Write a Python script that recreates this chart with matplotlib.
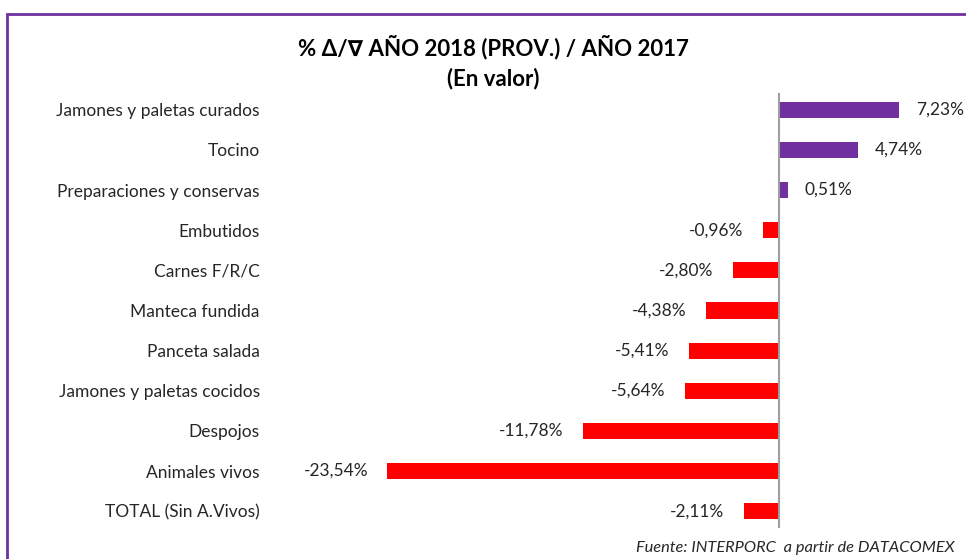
import matplotlib
matplotlib.use('Agg')
import matplotlib.pyplot as plt
from matplotlib.patches import Rectangle

# Data ------------------------------------------------------------------------

categorias = ['Jamones y paletas curados', 'Tocino',
              'Preparaciones y conservas', 'Embutidos', 'Carnes F/R/C',
              'Manteca fundida', 'Panceta salada',
              'Jamones y paletas cocidos', 'Despojos', 'Animales vivos',
              'TOTAL (Sin A.Vivos)']
variacion = [7.23, 4.74, 0.51, -0.96, -2.80, -4.38, -5.41, -5.64,
             -11.78, -23.54, -2.11]
etiquetas = ['7,23%', '4,74%', '0,51%', '-0,96%', '-2,80%', '-4,38%',
             '-5,41%', '-5,64%', '-11,78%', '-23,54%', '-2,11%']

purple = '#7030A0'
red = '#FF0000'
fam = ['Lato', 'DejaVu Sans']
plt.rcParams['font.family'] = fam

# Figure ----------------------------------------------------------------------

W, H = 966, 559
fig = plt.figure(figsize=(W / 100, H / 100), dpi=100)
ax = fig.add_axes([280 / W, 1 - 528 / H, (960 - 280) / W, (528 - 93) / H])

y = list(range(len(categorias)))
colors = [purple if v > 0 else red for v in variacion]
ax.barh(y, variacion, height=0.4, color=colors, zorder=2)
ax.axvline(0, color='#A0A0A0', lw=1.5, zorder=3)

ax.set_xlim(-30, 10.87)
ax.set_ylim(10.42, -0.42)
ax.set_yticks(y)
ax.set_yticklabels(categorias, fontsize=12.5, color='#262626')
ax.tick_params(axis='y', length=0, pad=14.5)
ax.set_xticks([])
for s in ax.spines.values():
    s.set_visible(False)

for yi, v, lab in zip(y, variacion, etiquetas):
    off = 12 if v > 0 else -14
    ax.annotate(lab, (v, yi), xytext=(off, 0), textcoords='offset points',
                ha='left' if v > 0 else 'right', va='center',
                fontsize=12.5, color='#262626')

fig.text(493 / W, 1 - 47 / H, '% Δ/∇ AÑO 2018 (PROV.) / AÑO 2017',
         ha='center', va='center', fontsize=16, fontweight='bold',
         color='black', family=fam)
fig.text(493 / W, 1 - 79 / H, '(En valor)', ha='center', va='center',
         fontsize=16, fontweight='bold', color='black')
fig.text(955 / W, 1 - 548 / H, 'Fuente: INTERPORC  a partir de DATACOMEX',
         ha='right', va='center', fontsize=11.8, style='italic',
         color='#262626')

fig.patches.append(Rectangle((7 / W, -0.1), 1.1, 1.1 - 14 / H,
                             transform=fig.transFigure, fill=False,
                             edgecolor=purple, lw=2, zorder=0))

fig.savefig('out.png', dpi=100)
